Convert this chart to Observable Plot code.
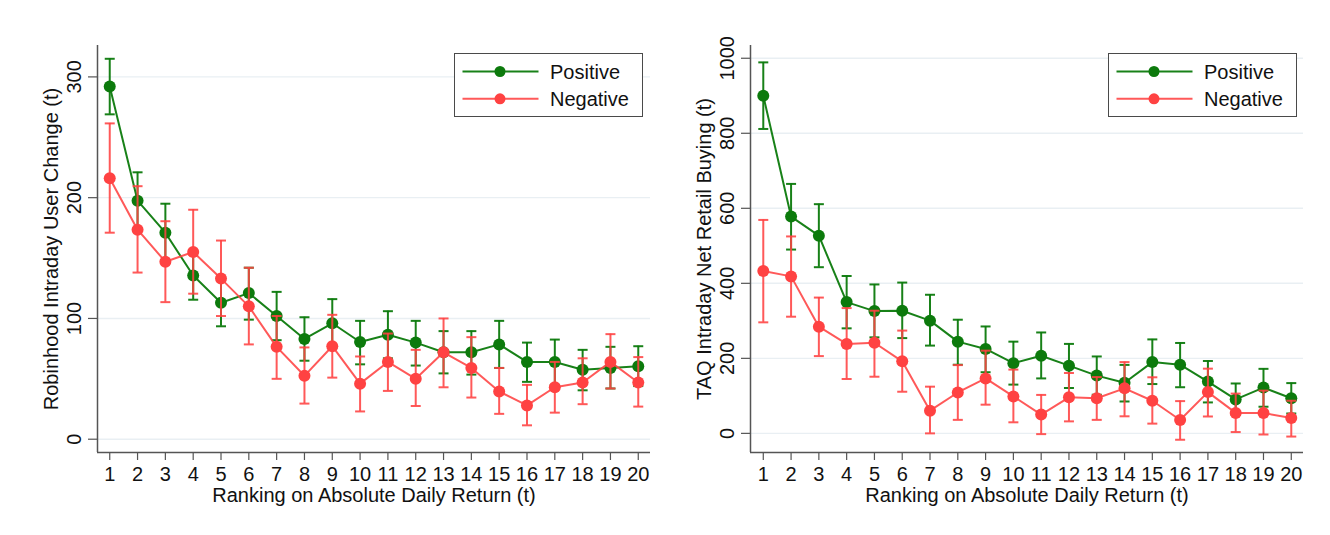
<!DOCTYPE html>
<html><head><meta charset="utf-8">
<script src="https://cdn.jsdelivr.net/npm/d3@7"></script>
<script src="https://cdn.jsdelivr.net/npm/@observablehq/plot@0.6"></script>
<style>
body{margin:0;background:#fff;font-family:"Liberation Sans",Arial,sans-serif;}
#wrap{position:relative;width:1330px;height:535px;display:flex;}
.panel{position:relative;width:665px;height:535px;}
.legend{position:absolute;top:53px;width:189px;height:64px;border:1.5px solid #4a4a4a;background:#fff;box-sizing:border-box;}
</style></head><body><div id="wrap"></div>
<script>
// ---- data ----
const rank = d3.range(1, 21);
const seriesNames = ["Positive", "Negative"];
const xTitle = "Ranking on Absolute Daily Return (t)";

const rhTitle = "Robinhood Intraday User Change (t)";
const rhTicks = [0, 100, 200, 300];
const rhPos   = [292, 197.5, 171, 135.5, 113, 121, 102, 83, 96, 80.5, 86.5, 80, 72, 72, 78.5, 64, 64, 57.5, 59, 60.5];
const rhPosLo = [269, 174, 147, 115.5, 93.5, 99, 82, 65, 76, 62, 67, 61, 54.5, 53.5, 59, 47.5, 45, 40.5, 42, 44];
const rhPosHi = [315, 221, 195, 155.5, 132.5, 142, 122, 101, 116, 98, 106, 98, 89.5, 89.5, 98, 80, 82.5, 74, 76.5, 77];
const rhNeg   = [216, 173.5, 147, 155, 133, 110, 76.5, 52.5, 77, 46, 64, 50, 72, 59, 39.5, 28, 43, 47, 64, 47];
const rhNegLo = [171, 138, 113.5, 120.5, 102, 78.5, 50, 29.5, 51, 23, 40, 27.5, 43, 34.5, 21, 11.5, 22, 29, 42, 27];
const rhNegHi = [261.5, 209.5, 180.5, 190, 164.5, 142, 102, 76, 103, 68.5, 87.5, 74, 100, 84.5, 59, 45, 64, 67, 87, 68];

const taqTitle = "TAQ Intraday Net Retail Buying (t)";
const taqTicks = [0, 200, 400, 600, 800, 1000];
const taqPos   = [900, 578, 527, 350, 326, 327, 300.5, 244.5, 225, 187, 207, 180.5, 154, 135, 190, 183, 138, 90.5, 122, 93.5];
const taqPosLo = [811.5, 490, 443, 280, 256, 254, 234, 183, 163, 130, 146.5, 121, 103, 85, 131.5, 123, 82.5, 49, 71, 53];
const taqPosHi = [989, 665, 611, 419.5, 397, 402, 369.5, 303, 285, 244.5, 269, 238.5, 205, 182.5, 250.5, 241, 193, 133, 172, 134];
const taqNeg   = [433, 418.5, 284.5, 238.5, 241.5, 192, 60.5, 109, 146.5, 98.5, 50, 96, 93.5, 120, 87, 35.5, 110, 54.5, 54, 41];
const taqNegLo = [296, 311, 206, 145, 151, 111, 0, 36, 76.5, 29.5, -2, 32, 36, 45.5, 26, -17, 45, 3.5, -3, -8.5];
const taqNegHi = [569, 525, 362, 334, 327, 274, 124.5, 182, 220.5, 170, 102.5, 161, 150, 190, 149.5, 86, 172.5, 106, 114, 87];

// ---- style ----
const GREEN = "#0c7a0c";
const RED = "#ff4242";
const GRID = "#e9eff3";
const AXIS = "#555";
const FONT = 20;

const capSymbol = {draw(ctx, size) { const w = Math.sqrt(size / Math.PI); ctx.moveTo(-w, 0); ctx.lineTo(w, 0); }};

function rows(x, y, lo, hi) { return x.map((r, i) => ({r, y: y[i], lo: lo[i], hi: hi[i]})); }

function seriesMarks(data, color, lineOpacity) {
  return [
    Plot.ruleX(data, {x: "r", y1: "lo", y2: "hi", stroke: color, strokeWidth: 2, strokeOpacity: lineOpacity}),
    Plot.dot(data, {x: "r", y: "lo", symbol: capSymbol, r: 5, stroke: color, strokeWidth: 2, fill: "none", strokeOpacity: lineOpacity}),
    Plot.dot(data, {x: "r", y: "hi", symbol: capSymbol, r: 5, stroke: color, strokeWidth: 2, fill: "none", strokeOpacity: lineOpacity}),
    Plot.line(data, {x: "r", y: "y", stroke: color, strokeWidth: 2, strokeOpacity: lineOpacity}),
    Plot.dot(data, {x: "r", y: "y", r: 6, fill: color, stroke: "none"})
  ];
}

function chart(cfg) {
  const pos = rows(rank, cfg.pos, cfg.posLo, cfg.posHi);
  const neg = rows(rank, cfg.neg, cfg.negLo, cfg.negHi);
  return Plot.plot({
    width: 665, height: 535,
    marginLeft: cfg.ml, marginRight: cfg.mr, marginTop: 45, marginBottom: 83,
    style: {fontFamily: "Liberation Sans, Arial, sans-serif", fontSize: FONT + "px", background: "#fff", color: "#111", overflow: "visible"},
    x: {domain: cfg.xDomain, axis: null},
    y: {domain: cfg.yDomain, axis: null},
    marks: [
      Plot.gridY(cfg.ticks, {stroke: GRID, strokeOpacity: 1, strokeWidth: 1.4}),
      Plot.ruleX([cfg.xDomain[0]], {stroke: AXIS, strokeWidth: 1.5}),
      Plot.ruleY([cfg.yDomain[0]], {stroke: AXIS, strokeWidth: 1.5}),
      Plot.axisY(cfg.ticks, {tickSize: 9, tickFormat: () => "", stroke: AXIS, strokeWidth: 1.2}),
      Plot.text(cfg.ticks, {y: d => d, text: d => String(d), frameAnchor: "left", dx: -17, rotate: -90, lineAnchor: "bottom", textAnchor: "middle", fontSize: FONT, fill: "#111"}),
      Plot.axisX(rank, {tickSize: 8, tickPadding: 6, fontSize: FONT, label: null, stroke: AXIS, strokeWidth: 1.2, fill: "#111"}),
      Plot.text([xTitle], {frameAnchor: "bottom", dy: 35, lineAnchor: "top", textAnchor: "middle", fontSize: FONT, fill: "#111"}),
      Plot.text([cfg.title], {frameAnchor: "left", dx: cfg.titleDx, rotate: -90, lineAnchor: "middle", textAnchor: "middle", fontSize: FONT, fill: "#111"}),
      ...seriesMarks(pos, GREEN, 0.95),
      ...seriesMarks(neg, RED, 0.88)
    ]
  });
}

function legend(left) {
  const div = document.createElement("div");
  div.className = "legend";
  div.style.left = left + "px";
  const svg = d3.create("svg").attr("width", 186).attr("height", 61).style("position", "absolute").style("left", "0px").style("top", "0px");
  const colors = [GREEN, RED];
  seriesNames.forEach((name, i) => {
    const yy = 17.5 + i * 27.3;
    svg.append("line").attr("x1", 7.5).attr("x2", 83.5).attr("y1", yy).attr("y2", yy).attr("stroke", colors[i]).attr("stroke-width", 2).attr("stroke-opacity", i ? 0.88 : 0.95);
    svg.append("circle").attr("cx", 45).attr("cy", yy).attr("r", 5.5).attr("fill", colors[i]);
    svg.append("text").attr("x", 95).attr("y", yy + 7).attr("font-size", FONT).attr("fill", "#111")
      .attr("font-family", "Liberation Sans, Arial, sans-serif").text(name);
  });
  div.appendChild(svg.node());
  return div;
}

const wrap = document.getElementById("wrap");
const p1 = document.createElement("div"); p1.className = "panel";
p1.appendChild(chart({pos: rhPos, posLo: rhPosLo, posHi: rhPosHi, neg: rhNeg, negLo: rhNegLo, negHi: rhNegHi,
  ticks: rhTicks, yDomain: [-11, 326], xDomain: [0.56, 20.44], ml: 97, mr: 15, title: rhTitle, titleDx: -46}));
p1.appendChild(legend(454));
const p2 = document.createElement("div"); p2.className = "panel";
p2.appendChild(chart({pos: taqPos, posLo: taqPosLo, posHi: taqPosHi, neg: taqNeg, negLo: taqNegLo, negHi: taqNegHi,
  ticks: taqTicks, yDomain: [-51, 1034], xDomain: [0.54, 20.44], ml: 85, mr: 27, title: taqTitle, titleDx: -45.5}));
p2.appendChild(legend(1107.7 - 665));
wrap.appendChild(p1); wrap.appendChild(p2);
</script>
</body></html>
